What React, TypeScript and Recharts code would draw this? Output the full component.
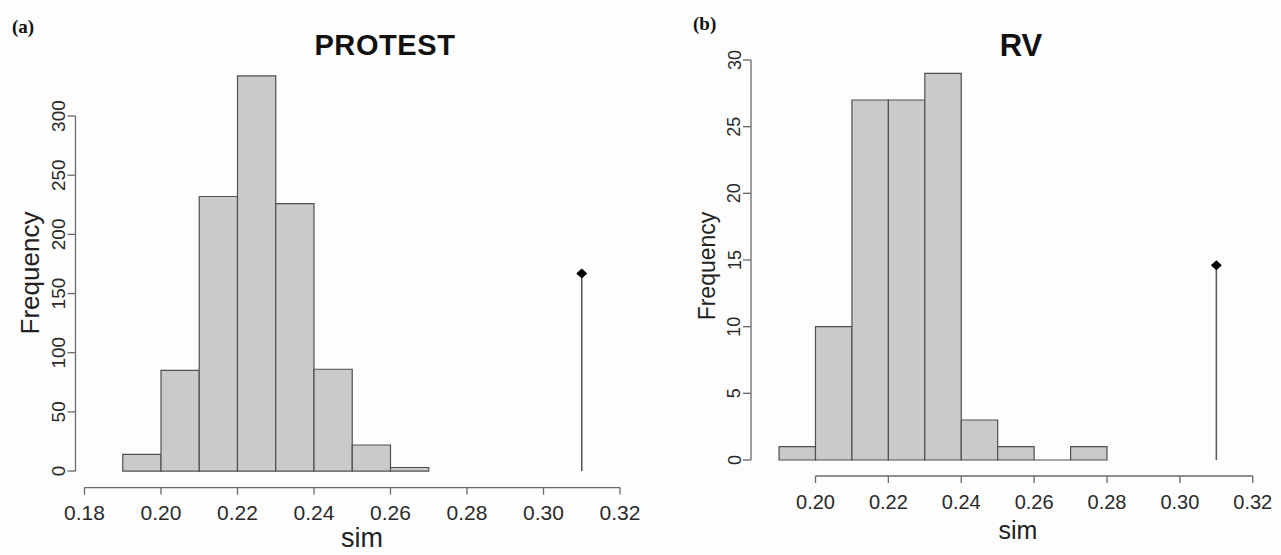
import React from 'react';
import {
  ComposedChart,
  XAxis,
  YAxis,
  ReferenceArea,
  ReferenceLine,
  Scatter,
} from 'recharts';

// bin left edges + counts
const BIN_WIDTH = 0.01;

const protestBins = [0.19, 0.2, 0.21, 0.22, 0.23, 0.24, 0.25, 0.26];
const protestCounts = [14, 85, 232, 334, 226, 86, 22, 3];
const protestXTicks = [0.18, 0.2, 0.22, 0.24, 0.26, 0.28, 0.3, 0.32];
const protestYTicks = [0, 50, 100, 150, 200, 250, 300];
const protestObserved = [{ sim: 0.31, freq: 167 }];

const rvBins = [0.19, 0.2, 0.21, 0.22, 0.23, 0.24, 0.25, 0.26, 0.27];
const rvCounts = [1, 10, 27, 27, 29, 3, 1, 0, 1];
const rvXTicks = [0.2, 0.22, 0.24, 0.26, 0.28, 0.3, 0.32];
const rvYTicks = [0, 5, 10, 15, 20, 25, 30];
const rvObserved = [{ sim: 0.31, freq: 14.6 }];

const SANS = '"Liberation Sans", Arial, Helvetica, sans-serif';
const SERIF = '"Liberation Serif", "Times New Roman", serif';
const BAR_FILL = '#cacaca';
const BAR_EDGE = '#505050';
const AXIS = '#6a6a6a';

function YTick({ x, y, payload, fontSize }: any) {
  return (
    <text
      x={x}
      y={y}
      transform={`rotate(-90, ${x}, ${y})`}
      textAnchor="middle"
      fontSize={fontSize}
      fontFamily={SANS}
      fill="#2a2a2a"
    >
      {payload.value}
    </text>
  );
}

// R's pch=18 style filled diamond, a bit wider than tall
function Diamond({ cx, cy }: any) {
  if (cx == null || cy == null) return null;
  return <path d={`M${cx - 5.5},${cy} L${cx},${cy - 5} L${cx + 5.5},${cy} L${cx},${cy + 5} Z`} fill="#000" />;
}

interface PanelProps {
  width: number;
  height: number;
  margin: { top: number; right: number; bottom: number; left: number };
  yAxisWidth: number;
  xAxisHeight: number;
  xDomain: [number, number];
  yDomain: [number, number];
  bins: number[];
  counts: number[];
  xTicks: number[];
  yTicks: number[];
  observed: { sim: number; freq: number }[];
  xTickFont: number;
  yTickFont: number;
  xTickMargin: number;
}

function Histogram(p: PanelProps) {
  const yTop = p.yTicks[p.yTicks.length - 1];
  const xFirst = p.xTicks[0];
  const xLast = p.xTicks[p.xTicks.length - 1];
  return (
    <ComposedChart width={p.width} height={p.height} margin={p.margin}>
      <XAxis
        type="number"
        dataKey="sim"
        domain={p.xDomain}
        allowDataOverflow
        ticks={p.xTicks}
        interval={0}
        tickFormatter={(v: number) => v.toFixed(2)}
        axisLine={false}
        tickLine={{ stroke: AXIS, strokeWidth: 1.3 }}
        tickSize={7}
        tickMargin={p.xTickMargin}
        height={p.xAxisHeight}
        tick={{ fontSize: p.xTickFont, fill: '#2a2a2a', fontFamily: SANS }}
      />
      <YAxis
        type="number"
        dataKey="freq"
        domain={p.yDomain}
        allowDataOverflow
        ticks={p.yTicks}
        interval={0}
        axisLine={false}
        tickLine={{ stroke: AXIS, strokeWidth: 1.3 }}
        tickSize={8}
        tickMargin={2.5}
        width={p.yAxisWidth}
        tick={<YTick fontSize={p.yTickFont} />}
      />
      {/* R-style axis lines: only span first..last tick */}
      <ReferenceLine
        segment={[
          { x: p.xDomain[0], y: 0 },
          { x: p.xDomain[0], y: yTop },
        ]}
        stroke={AXIS}
        strokeWidth={1.3}
        ifOverflow="visible"
      />
      <ReferenceLine
        segment={[
          { x: xFirst, y: p.yDomain[0] },
          { x: xLast, y: p.yDomain[0] },
        ]}
        stroke={AXIS}
        strokeWidth={1.3}
        ifOverflow="visible"
      />
      {p.bins.map((b, i) =>
        p.counts[i] > 0 ? (
          <ReferenceArea
            key={`bin-${b}`}
            x1={b}
            x2={b + BIN_WIDTH}
            y1={0}
            y2={p.counts[i]}
            fill={BAR_FILL}
            fillOpacity={1}
            stroke={BAR_EDGE}
            strokeWidth={1.2}
            ifOverflow="visible"
          />
        ) : (
          // empty bin: R still draws a flat rect, i.e. a line at 0
          <ReferenceLine
            key={`bin-${b}`}
            segment={[
              { x: b, y: 0 },
              { x: b + BIN_WIDTH, y: 0 },
            ]}
            stroke={BAR_EDGE}
            strokeWidth={1.2}
            ifOverflow="visible"
          />
        )
      )}
      {p.observed.map(o => (
        <ReferenceLine
          key={`obs-${o.sim}`}
          segment={[
            { x: o.sim, y: 0 },
            { x: o.sim, y: o.freq },
          ]}
          stroke="#555"
          strokeWidth={1.5}
          ifOverflow="visible"
        />
      ))}
      <Scatter
        data={p.observed}
        shape={<Diamond />}
        fill="#000"
        legendType="none"
        isAnimationActive={false}
      />
    </ComposedChart>
  );
}

export default function App() {
  return (
    <div
      style={{
        position: 'absolute',
        left: 0,
        top: 0,
        width: 1281,
        height: 555,
        background: '#fdfdfd',
        overflow: 'hidden',
      }}
    >
      <div style={{ position: 'absolute', left: 0, top: 0 }}>
        <Histogram
          width={640}
          height={555}
          margin={{ top: 60.4, right: 11, bottom: 0, left: 0 }}
          yAxisWidth={75.5}
          xAxisHeight={67.4}
          xDomain={[0.17765, 0.32235]}
          yDomain={[-14, 347]}
          bins={protestBins}
          counts={protestCounts}
          xTicks={protestXTicks}
          yTicks={protestYTicks}
          observed={protestObserved}
          xTickFont={21}
          yTickFont={19}
          xTickMargin={10}
        />
      </div>
      <div style={{ position: 'absolute', left: 640, top: 0 }}>
        <Histogram
          width={641}
          height={555}
          margin={{ top: 40, right: 10, bottom: 0, left: 0 }}
          yAxisWidth={111}
          xAxisHeight={79}
          xDomain={[0.1823, 0.325]}
          yDomain={[-1.2, 31.5]}
          bins={rvBins}
          counts={rvCounts}
          xTicks={rvXTicks}
          yTicks={rvYTicks}
          observed={rvObserved}
          xTickFont={20}
          yTickFont={18}
          xTickMargin={12}
        />
      </div>
      <svg
        width={1281}
        height={555}
        style={{ position: 'absolute', left: 0, top: 0, pointerEvents: 'none' }}
      >
        <text x={12} y={33} fontFamily={SERIF} fontWeight="bold" fontSize={19} fill="#111">
          (a)
        </text>
        <text x={693} y={30} fontFamily={SERIF} fontWeight="bold" fontSize={19} fill="#111">
          (b)
        </text>
        <text x={385} y={55} textAnchor="middle" fontFamily={SANS} fontWeight="bold" fontSize={29} letterSpacing={0.6} fill="#111">
          PROTEST
        </text>
        <text x={1021} y={56} textAnchor="middle" fontFamily={SANS} fontWeight="bold" fontSize={31} fill="#111">
          RV
        </text>
        <text
          x={39}
          y={273}
          transform="rotate(-90, 39, 273)"
          textAnchor="middle"
          fontFamily={SANS}
          fontSize={26}
          fill="#222"
        >
          Frequency
        </text>
        <text
          x={714.5}
          y={266}
          transform="rotate(-90, 714.5, 266)"
          textAnchor="middle"
          fontFamily={SANS}
          fontSize={23}
          fill="#222"
        >
          Frequency
        </text>
        <text x={362} y={547} textAnchor="middle" fontFamily={SANS} fontSize={27} fill="#222">
          sim
        </text>
        <text x={1018} y={539} textAnchor="middle" fontFamily={SANS} fontSize={25} fill="#222">
          sim
        </text>
      </svg>
    </div>
  );
}
